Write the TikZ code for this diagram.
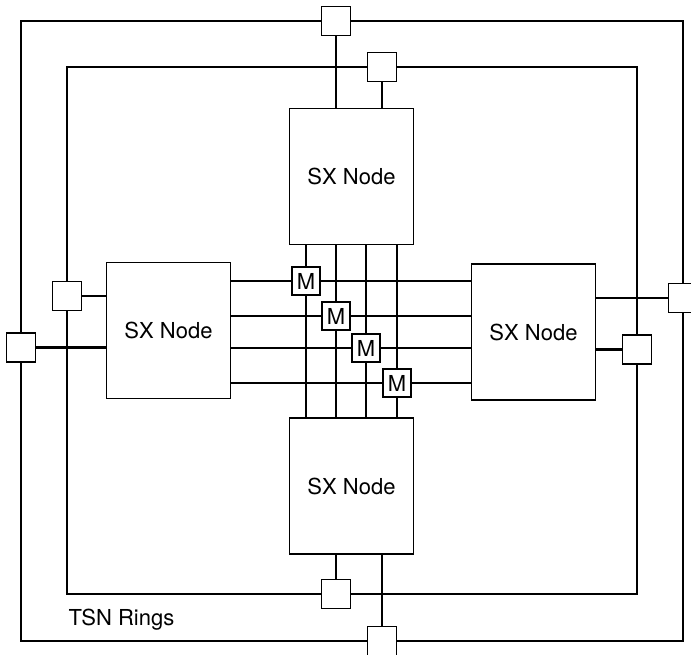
\documentclass[tikz,border=0pt]{standalone}
\usepackage{fontspec}
\setmainfont{TeX Gyre Heros}

\begin{document}
\begin{tikzpicture}[x=1pt,y=-1pt,
  sxnode/.style={draw,line width=1.4pt,minimum width=124pt,minimum height=136pt,
    inner sep=0pt,font=\fontsize{22}{26}\selectfont},
  ringbox/.style={draw,fill=white,line width=1.8pt,minimum width=29pt,
    minimum height=29pt,inner sep=0pt},
  mbox/.style={ringbox,minimum width=28pt,minimum height=28pt,
    font=\fontsize{22}{26}\selectfont},
  wire/.style={line width=2.6pt},
  ring/.style={line width=2.9pt}]
  \useasboundingbox (0,0) rectangle (691,655);

  % the two TSN rings
  \draw[ring] (21,21) rectangle (683,641);
  \draw[ring] (67,67) rectangle (637,594);
  \node[anchor=base west,font=\fontsize{22}{26}\selectfont] (tsn) at (65,625) {TSN Rings};

  % SX nodes
  \node[sxnode] (sxT) at (351.5,176.5) {SX Node};
  \node[sxnode] (sxB) at (351.5,486) {SX Node};
  \node[sxnode] (sxL) at (168.5,330.5) {SX Node};
  \node[sxnode] (sxR) at (533.5,332) {SX Node};

  % ring interfaces
  \node[ringbox] (ot) at (336,21) {};
  \node[ringbox] (it) at (382,67) {};
  \node[ringbox] (ib) at (336,594) {};
  \node[ringbox] (ob) at (382,641) {};
  \node[ringbox] (ol) at (21,347.5) {};
  \node[ringbox] (il) at (67,296) {};
  \node[ringbox] (or) at (683,298) {};
  \node[ringbox] (ir) at (637,349.5) {};

  \draw[wire] (ot) -- (ot |- sxT.north);
  \draw[wire] (it) -- (it |- sxT.north);
  \draw[wire] (ib) -- (ib |- sxB.south);
  \draw[wire] (ob) -- (ob |- sxB.south);
  \draw[wire] (ol) -- (ol -| sxL.west);
  \draw[wire] (il) -- (il -| sxL.west);
  \draw[wire] (or) -- (or -| sxR.east);
  \draw[wire] (ir) -- (ir -| sxR.east);

  % crossbar with M boxes on the diagonal
  \foreach \gx/\gy [count=\i] in {306/281,336/316,366/348,397/383} {
    \coordinate (g\i) at (\gx,\gy);
    \draw[wire] (g\i |- sxT.south) -- (g\i |- sxB.north);
    \draw[wire] (g\i -| sxL.east) -- (g\i -| sxR.west);
  }
  \foreach \i in {1,...,4}
    \node[mbox] (m\i) at (g\i) {M};
\end{tikzpicture}
\end{document}
